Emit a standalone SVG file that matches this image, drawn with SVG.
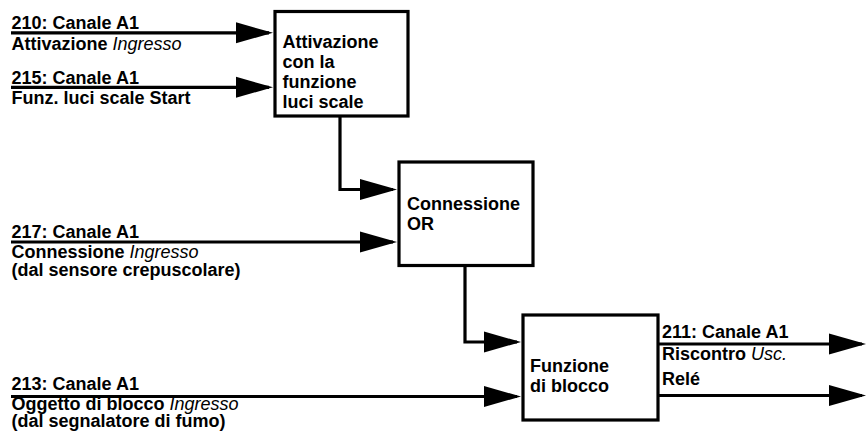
<svg xmlns="http://www.w3.org/2000/svg" width="866" height="435" viewBox="0 0 866 435">
<style>
text{font-family:"Liberation Sans",Arial,Helvetica,sans-serif;font-size:18px;font-weight:bold;fill:#000}
.it{font-style:italic;font-weight:normal}
.box{fill:#fff;stroke:#000;stroke-width:3.2}
.ln{fill:none;stroke:#000;stroke-width:3.2;marker-end:url(#ah)}
</style>
<defs>
<marker id="ah" markerUnits="userSpaceOnUse" markerWidth="38" markerHeight="22" refX="33" refY="11" orient="auto" viewBox="0 0 38 22">
<path d="M0,0.5 L37,11 L0,21.5 z" fill="#000"/>
</marker>
</defs>
<g id="connectors">
<path class="ln" d="M11,32.8 H269"/>
<path class="ln" d="M11,87.3 H269"/>
<path class="ln" d="M340,117 V189.5 H393"/>
<path class="ln" d="M11,242 H393"/>
<path class="ln" d="M465,267 V342 H517"/>
<path class="ln" d="M11,396.5 H517"/>
<path class="ln" d="M658,344 H862"/>
<path class="ln" d="M658,395.5 H862"/>
</g>
<g id="node-attivazione">
<rect class="box" x="275" y="11.5" width="133" height="104.5"/>
<text x="282.5" y="47.7">Attivazione</text>
<text x="282.5" y="67.7">con la</text>
<text x="282.5" y="87.7">funzione</text>
<text x="282.5" y="107.7">luci scale</text>
</g>
<g id="node-or">
<rect class="box" x="399" y="162" width="134" height="103.5"/>
<text x="407" y="210">Connessione</text>
<text x="407" y="230">OR</text>
</g>
<g id="node-blocco">
<rect class="box" x="523" y="315" width="135" height="105"/>
<text x="530" y="371.7">Funzione</text>
<text x="530" y="391.7">di blocco</text>
</g>
<g id="label-210">
<text x="11.5" y="29">210: Canale A1</text>
<text x="11.5" y="49.5">Attivazione <tspan class="it">Ingresso</tspan></text>
</g>
<g id="label-215">
<text x="11.5" y="83.5">215: Canale A1</text>
<text x="11.5" y="104">Funz. luci scale Start</text>
</g>
<g id="label-217">
<text x="11.5" y="237.7">217: Canale A1</text>
<text x="11.5" y="258.3">Connessione <tspan class="it">Ingresso</tspan></text>
<text x="11.5" y="276">(dal sensore crepuscolare)</text>
</g>
<g id="label-213">
<text x="11.5" y="390">213: Canale A1</text>
<text x="11.5" y="409.5">Oggetto di blocco <tspan class="it">Ingresso</tspan></text>
<text x="11.5" y="427">(dal segnalatore di fumo)</text>
</g>
<g id="label-outputs">
<text x="662" y="338">211: Canale A1</text>
<text x="662" y="360">Riscontro <tspan class="it">Usc.</tspan></text>
<text x="662" y="385">Relé</text>
</g>
</svg>
